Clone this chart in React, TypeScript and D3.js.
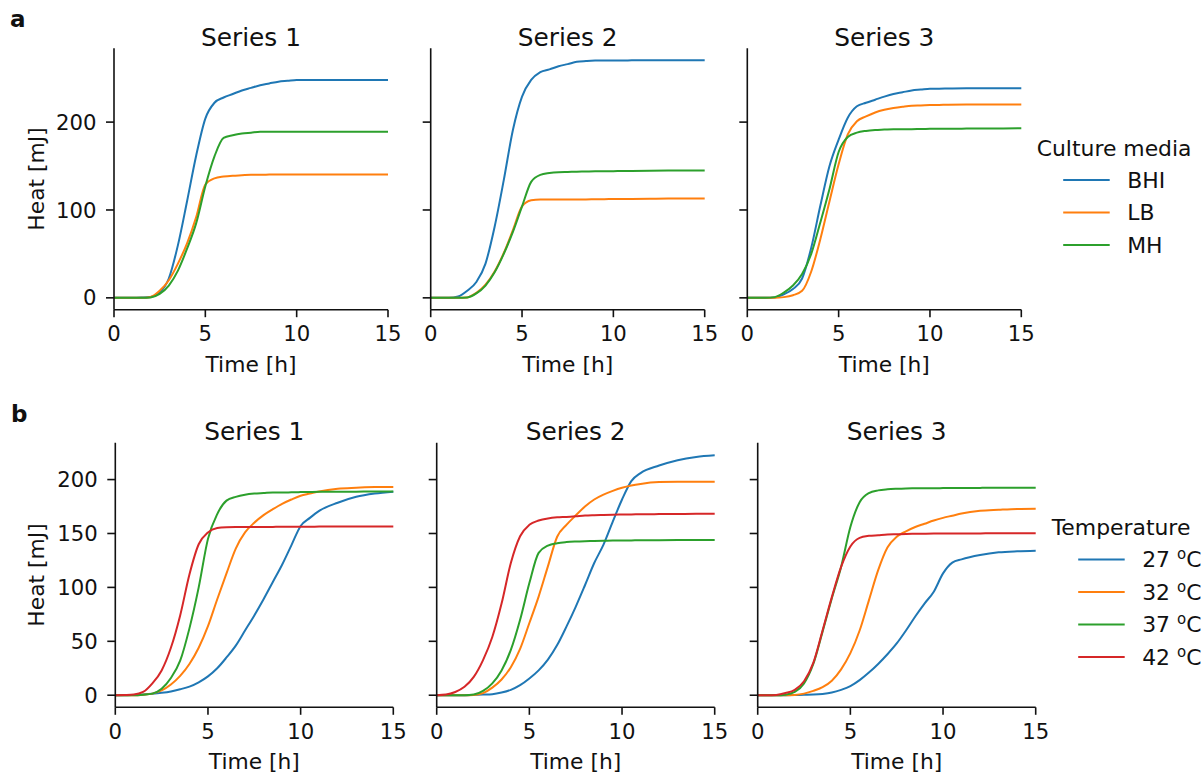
import React from 'react';
import * as d3 from 'd3';

// time grid (h) shared by every curve
const times = [0, 0.5, 1, 1.5, 2, 2.5, 3, 3.5, 4, 4.5, 5, 5.5, 6, 6.5, 7, 7.5, 8, 8.5, 9, 9.5, 10, 10.5, 11, 12, 13, 14, 15];

const seriesTitles = ['Series 1', 'Series 2', 'Series 3'];
const mediaNames = ['BHI', 'LB', 'MH'];
const tempNames = ['27', '32', '37', '42'];
const xTicks = [0, 5, 10, 15];
const yTicksA = [0, 100, 200];
const yTicksB = [0, 50, 100, 150, 200];

// panel a: culture media, heat [mJ]
const a1BHI = [0, 0, 0, 0.3, 1, 6, 22, 60, 110, 162, 204, 222, 228, 232, 236, 239, 242, 244, 246, 247, 248, 248, 248, 248, 248, 248, 248];
const a1LB = [0, 0, 0, 0, 1, 8, 20, 39, 62, 92, 129, 136, 138, 139, 139.5, 140, 140, 140.3, 140.5, 140.5, 140.5, 140.5, 140.5, 140.5, 140.5, 140.5, 140.5];
const a1MH = [0, 0, 0, 0, 0.5, 4.5, 14, 31, 56, 85, 127, 161, 182, 185, 187, 188, 189, 189, 189, 189, 189, 189, 189, 189, 189, 189, 189];

const a2BHI = [0, 0, 0, 1.5, 8, 18, 39, 81, 134, 191, 229, 248, 257, 260, 263.6, 266, 268.6, 269.5, 270, 270, 270, 270, 270.3, 270.5, 270.5, 270.5, 270.5];
const a2LB = [0, 0, 0, 0, 0.5, 5.7, 15, 30, 51, 77, 104, 111, 112, 112, 112, 112, 112, 112, 112.2, 112.3, 112.4, 112.5, 112.6, 112.8, 113, 113, 113];
const a2MH = [0, 0, 0, 0, 0.5, 5, 14, 29, 50, 75, 104, 132, 140, 142, 143, 143.3, 143.6, 143.8, 144, 144, 144.2, 144.3, 144.4, 144.6, 144.8, 145, 145];

const a3BHI = [0, 0, 0, 0.5, 4, 10, 22, 57, 105, 150, 180, 205, 218, 222, 225.5, 229, 232, 234, 236, 237, 238, 238, 238.2, 238.5, 238.5, 238.5, 238.5];
const a3LB = [0, 0, 0, 0, 0.8, 3, 8, 30, 67, 110, 152, 186, 201, 206.5, 211, 214, 216, 217.5, 218.7, 219, 219.4, 219.6, 219.8, 220, 220, 220, 220];
const a3MH = [0, 0, 0, 0.8, 6, 14, 27, 50, 86, 124, 166, 183, 188, 190, 191, 191.5, 192, 192, 192, 192.2, 192.3, 192.4, 192.5, 192.6, 192.7, 192.8, 193];

// panel b: temperature, heat [mJ]
const b1T27 = [0, 0, 0.3, 0.7, 1.3, 2.2, 3.5, 5.5, 8, 12, 17.5, 25, 35, 46, 60, 74, 89, 105, 121, 139, 157, 164.5, 171, 178.5, 184, 187, 188.7];
const b1T32 = [0, 0, 0, 0.5, 1.5, 4.5, 10, 18, 29, 44, 64, 89, 113, 136, 151, 160, 167, 172.5, 177.5, 181.5, 185, 187, 189, 191.5, 192.4, 193, 193];
const b1T37 = [0, 0, 0, 0.5, 1.5, 6, 16, 32, 62, 100, 145, 168, 180.5, 184, 186, 187, 187.5, 188, 188, 188.2, 188.4, 188.5, 188.6, 188.7, 188.8, 189, 189];
const b1T42 = [0, 0.2, 0.6, 3, 11, 23, 44, 74, 112, 140, 151, 155, 155.8, 156, 156, 156, 156, 156.1, 156.2, 156.2, 156.3, 156.3, 156.4, 156.4, 156.4, 156.4, 156.4];

const b2T27 = [0, 0, 0, 0, 0.3, 0.6, 1, 2.5, 5, 9.3, 15.5, 23, 33, 46.5, 63.6, 82, 102, 122.6, 139.7, 161, 181.5, 198.6, 206, 213, 218, 221, 222.5];
const b2T32 = [0, 0, 0, 0, 0.3, 2, 7, 14.6, 26, 43, 67, 91.5, 119.5, 147, 158, 166.7, 175, 181.5, 186, 189.5, 192.4, 194.5, 196, 197.7, 198, 198, 198];
const b2T37 = [0, 0, 0, 0, 0.6, 4, 11, 23, 42, 70, 104, 132, 138.7, 141, 142, 142.5, 142.8, 143, 143.2, 143.4, 143.5, 143.6, 143.7, 143.8, 143.9, 144, 144];
const b2T42 = [0, 0.6, 3, 7.8, 17, 32.6, 54, 85, 122.6, 147.4, 158, 162, 164, 165, 165.4, 166, 166.7, 167, 167.2, 167.4, 167.6, 167.7, 167.8, 168, 168.1, 168.2, 168.2];

const b3T27 = [0, 0, 0, 0, 0.2, 0.4, 0.6, 1.2, 2.5, 5, 8.5, 14, 21, 29, 38, 48, 60, 73, 85, 96, 113, 123, 126, 130, 132.5, 133.5, 134];
const b3T32 = [0, 0, 0, 0, 0.3, 1.5, 4, 7.5, 13.5, 24, 39, 60, 88, 116, 137, 147, 152, 156, 159, 162, 164.5, 166.5, 168.5, 171, 172, 172.8, 173];
const b3T37 = [0, 0, 0, 0.5, 3, 11, 29, 59, 90, 119, 156, 179, 187.5, 190, 191, 191.5, 191.8, 191.9, 192, 192, 192.1, 192.2, 192.2, 192.3, 192.4, 192.4, 192.4];
const b3T42 = [0, 0, 0.3, 2, 5, 13, 30, 60, 91, 119, 138, 146, 147.8, 148.4, 149, 149.3, 149.6, 149.7, 149.8, 149.9, 150, 150, 150.1, 150.1, 150.2, 150.2, 150.2];

const colors = ['#1f77b4', '#ff7f0e', '#2ca02c', '#d62728'];
const FONT = 'DejaVu Sans, sans-serif';

const Panel = ({ left, top, bottom, width, yDomain, yTicks, title, series, showY }) => {
	const xScale = d3.scaleLinear().domain([0, 15]).range([left, left + width]);
	const yScale = d3.scaleLinear().domain(yDomain).range([bottom, top]);
	const line = d3
		.line()
		.x((d) => xScale(d[0]))
		.y((d) => yScale(d[1]))
		.curve(d3.curveMonotoneX);

	return (
		<g>
			{/* title */}
			<text x={left + width / 2} y={top - 2.5} textAnchor='middle' fontSize={24.8} fill='#111'>
				{title}
			</text>
			{/* curves */}
			{series.map((vals, i) => (
				<path
					key={i}
					d={line(times.map((t, j) => [t, vals[j]]))}
					fill='none'
					stroke={colors[i]}
					strokeWidth={2}
				/>
			))}
			{/* spines */}
			<line x1={left} x2={left} y1={top} y2={bottom} stroke='#111' strokeWidth={1.6} />
			<line x1={left} x2={left + width} y1={bottom} y2={bottom} stroke='#111' strokeWidth={1.6} />
			{/* x ticks */}
			{xTicks.map((v) => (
				<g key={v} transform={`translate(${xScale(v)},${bottom})`}>
					<line y2={7.5} stroke='#111' strokeWidth={1.6} />
					<text y={31.5} textAnchor='middle' fontSize={21.2} fill='#111'>
						{v}
					</text>
				</g>
			))}
			<text x={left + width / 2} y={bottom + 62} textAnchor='middle' fontSize={21.8} fill='#111'>
				Time [h]
			</text>
			{/* y ticks */}
			{yTicks.map((v) => (
				<g key={v} transform={`translate(${left},${yScale(v)})`}>
					<line x2={-8} stroke='#111' strokeWidth={1.6} />
					{showY && (
						<text x={-17.5} dy='0.36em' textAnchor='end' fontSize={21.2} fill='#111'>
							{v}
						</text>
					)}
				</g>
			))}
			{showY && (
				<text
					transform={`translate(44,${(top + bottom) / 2}) rotate(-90)`}
					textAnchor='middle'
					fontSize={21.8}
					fill='#111'
				>
					Heat [mJ]
				</text>
			)}
		</g>
	);
};

const Legend = ({ x, y, title, labels, degree }) => {
	return (
		<g fontSize={21.9} fill='#111'>
			<text x={x} y={y}>
				{title}
			</text>
			{labels.map((lab, i) => {
				const ly = y + 24.5 + i * 32.5;
				return (
					<g key={lab}>
						<line x1={x + 26.5} x2={x + 73} y1={ly} y2={ly} stroke={colors[i]} strokeWidth={2} />
						<text x={x + 90.5} y={ly + 7.8}>
							{degree ? (
								<>
									{lab + ' '}
									<tspan fontSize={15} dy={-8}>
										o
									</tspan>
									<tspan dy={8}>C</tspan>
								</>
							) : (
								lab
							)}
						</text>
					</g>
				);
			})}
		</g>
	);
};

const App = () => {
	const rowA = [
		[a1BHI, a1LB, a1MH],
		[a2BHI, a2LB, a2MH],
		[a3BHI, a3LB, a3MH],
	];
	const rowB = [
		[b1T27, b1T32, b1T37, b1T42],
		[b2T27, b2T32, b2T37, b2T42],
		[b3T27, b3T32, b3T37, b3T42],
	];
	const leftsA = [114, 430.7, 747.3];
	const leftsB = [115.3, 436.7, 757.7];

	return (
		<svg
			width={1202}
			height={778}
			style={{ position: 'absolute', left: 0, top: 0, background: '#fff' }}
			fontFamily={FONT}
		>
			<rect width={1202} height={778} fill='#fff' />
			<text x={10} y={27} fontSize={23} fontWeight='bold' fill='#111'>
				a
			</text>
			<text x={11} y={422} fontSize={23} fontWeight='bold' fill='#111'>
				b
			</text>
			{rowA.map((series, i) => (
				<Panel
					key={'a' + i}
					left={leftsA[i]}
					top={48.3}
					bottom={309.7}
					width={274}
					yDomain={[-13.5, 284]}
					yTicks={yTicksA}
					title={seriesTitles[i]}
					series={series}
					showY={i === 0}
				/>
			))}
			{rowB.map((series, i) => (
				<Panel
					key={'b' + i}
					left={leftsB[i]}
					top={442.7}
					bottom={707.3}
					width={278}
					yDomain={[-11.2, 234.2]}
					yTicks={yTicksB}
					title={seriesTitles[i]}
					series={series}
					showY={i === 0}
				/>
			))}
			<Legend x={1036.7} y={155.5} title='Culture media' labels={mediaNames} degree={false} />
			<Legend x={1051.7} y={535} title='Temperature' labels={tempNames} degree={true} />
		</svg>
	);
};

export default App;
